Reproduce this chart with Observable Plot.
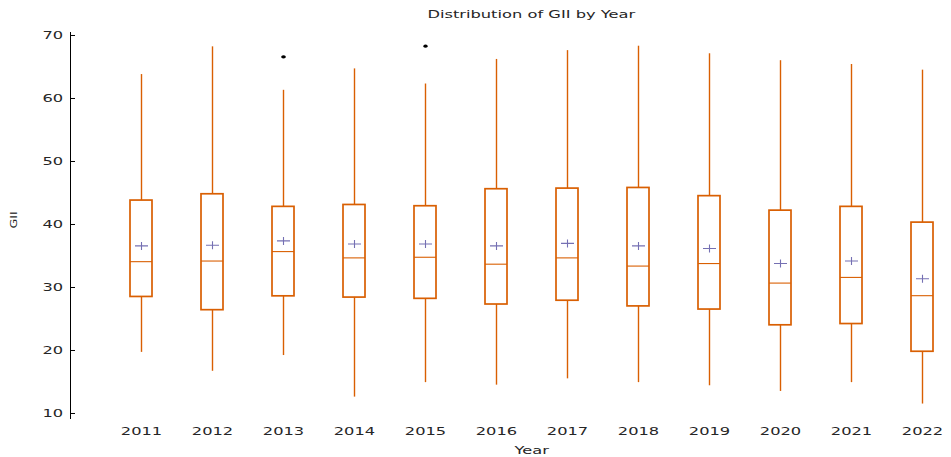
<!DOCTYPE html>
<html>
<head>
<meta charset="utf-8">
<script src="https://cdn.jsdelivr.net/npm/d3@7"></script>
<script src="https://cdn.jsdelivr.net/npm/@observablehq/plot@0.6"></script>
<style>
  body { margin: 0; background: #fff; }
  svg { font-family: "DejaVu Sans", sans-serif; }
</style>
</head>
<body>
<div id="chart"></div>
<script>
const years = ["2011","2012","2013","2014","2015","2016","2017","2018","2019","2020","2021","2022"];
const whiskerLow  = [19.7, 16.7, 19.2, 12.6, 14.9, 14.5, 15.5, 14.9, 14.4, 13.5, 14.9, 11.5];
const q1          = [28.5, 26.4, 28.6, 28.4, 28.2, 27.3, 27.9, 27.0, 26.5, 24.0, 24.2, 19.8];
const median      = [34.1, 34.2, 35.7, 34.7, 34.8, 33.7, 34.7, 33.4, 33.8, 30.7, 31.6, 28.7];
const q3          = [43.8, 44.8, 42.8, 43.1, 42.9, 45.6, 45.7, 45.8, 44.5, 42.2, 42.8, 40.3];
const whiskerHigh = [63.8, 68.2, 61.3, 64.7, 62.3, 66.2, 67.6, 68.3, 67.1, 66.0, 65.4, 64.5];
const mean        = [36.6, 36.7, 37.4, 36.9, 36.9, 36.6, 37.0, 36.6, 36.2, 33.8, 34.2, 31.4];
const outlierYears  = ["2013", "2015"];
const outlierValues = [66.6, 68.3];
const yTicks = [10, 20, 30, 40, 50, 60, 70];
const titleText = "Distribution of GII by Year";
const xLabel = "Year";
const yLabel = "GII";

const stats = years.map((year, i) => ({
  year, lo: whiskerLow[i], q1: q1[i], med: median[i], q3: q3[i], hi: whiskerHigh[i], mean: mean[i]
}));
const outliers = outlierYears.map((year, i) => ({year, value: outlierValues[i]}));

const ORANGE = "#d95f02";
const PURPLE = "#7570b3";
const TEXT = "#262626";

const plusSymbol = {
  draw(ctx) {
    ctx.moveTo(-6.5, 0); ctx.lineTo(6.5, 0);
    ctx.moveTo(0, -4); ctx.lineTo(0, 4);
  }
};
const ellipseSymbol = {
  draw(ctx) {
    const rx = 2.3, ry = 1.6, n = 12;
    for (let k = 0; k <= n; k++) {
      const a = 2 * Math.PI * k / n;
      const px = rx * Math.cos(a), py = ry * Math.sin(a);
      if (k === 0) ctx.moveTo(px, py); else ctx.lineTo(px, py);
    }
    ctx.closePath();
  }
};

const chart = Plot.plot({
  width: 951,
  height: 457,
  marginLeft: 70,
  marginRight: 8,
  marginTop: 32,
  marginBottom: 39,
  style: {fontFamily: "DejaVu Sans, sans-serif", fontSize: "10.5px", color: TEXT},
  x: {domain: years, paddingInner: 0.696, paddingOuter: 0.49, align: 0.85, label: null},
  y: {domain: [9.206, 70.476], label: null},
  marks: [
    Plot.frame({anchor: "left", stroke: "#000", strokeWidth: 1}),
    Plot.axisY({ticks: yTicks, tickSize: 0, tickPadding: 11, label: null, fontSize: 10.5}),
    Plot.tickY(yTicks, {y: d => d, stroke: "#000", strokeWidth: 1, insetRight: 868}),
    Plot.axisX({tickSize: 0, tickPadding: 9, label: null, fontSize: 10.5}),
    Plot.ruleX(stats, {x: "year", y1: "lo", y2: "q1", stroke: ORANGE, strokeWidth: 1.4}),
    Plot.ruleX(stats, {x: "year", y1: "q3", y2: "hi", stroke: ORANGE, strokeWidth: 1.4}),
    Plot.barY(stats, {x: "year", y1: "q1", y2: "q3", fill: "white", stroke: ORANGE, strokeWidth: 1.7}),
    Plot.tickY(stats, {x: "year", y: "med", stroke: ORANGE, strokeWidth: 1.1}),
    Plot.dot(stats, {x: "year", y: "mean", symbol: plusSymbol, fill: "none", stroke: PURPLE, strokeWidth: 1.1}),
    Plot.dot(outliers, {x: "year", y: "value", symbol: ellipseSymbol, fill: "#000", stroke: "none"}),
    Plot.text([titleText], {text: d => d, frameAnchor: "top", dy: -22, dx: 24.5, fontSize: 10.5, fill: TEXT}),
    Plot.text([xLabel], {text: d => d, frameAnchor: "bottom", dy: 35, dx: 24.5, fontSize: 10.5, fill: TEXT}),
    Plot.text([yLabel], {text: d => d, frameAnchor: "left", dx: -56, dy: 0.5, rotate: -90, fontSize: 9, fill: TEXT})
  ]
});

document.getElementById("chart").append(chart);

// horizontal stretch of glyphs, as in the reference rendering
const S = 1.55;
chart.querySelectorAll("text").forEach(t => {
  const b = t.getBBox();
  const tr = t.getAttribute("transform") || "";
  const rot = tr.includes("rotate");
  const cx = b.x + b.width / 2;
  const s = rot ? 1.4 : S;
  t.setAttribute("transform", `${tr} translate(${cx},0) scale(${s},1) translate(${-cx},0)`);
});
</script>
</body>
</html>
